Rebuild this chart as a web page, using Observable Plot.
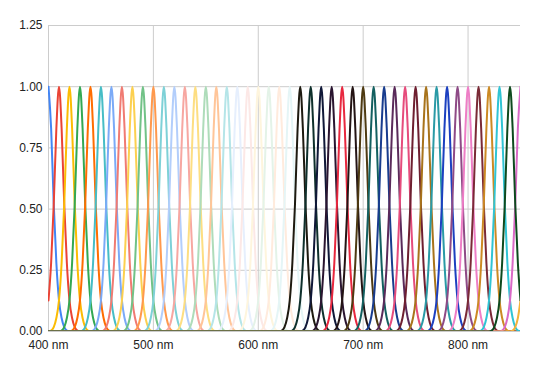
<!DOCTYPE html>
<html>
<head>
<meta charset="utf-8">
<script src="https://cdn.jsdelivr.net/npm/d3@7"></script>
<script src="https://cdn.jsdelivr.net/npm/@observablehq/plot@0.6"></script>
<style>
  html, body { margin: 0; padding: 0; background: #fff; }
  #chart { width: 533px; height: 371px; }
</style>
</head>
<body>
<div id="chart"></div>
<script>
// Peak wavelengths (nm) of each band
const centers = [400,410,420,430,440,450,460,470,480,490,500,510,520,530,540,550,560,570,580,590,600,610,620,630,
                 640,650,660,670,680,690,700,710,720,730,740,750,760,770,780,790,800,810,820,830,840,850,860];
// Line colour of each band
const colors = ["#4285F4","#EA4335","#FBBC04","#34A853","#FF6D01","#46BDC6",
                "#7BAAF7","#F07B72","#FCD04F","#71C287","#FF994D","#7ED1D7",
                "#B3CEFB","#F7A7A1","#FDDE82","#AEDCBA","#FFC599","#B5E5E8",
                "#E6EFFD","#FCE8E6","#FEF5DD","#E4F3E8","#FFEBDD","#E5F5F6",
                "#1E1A10","#0F302C","#101838","#2A1530","#E8283F","#241414",
                "#4E3A12","#136060","#183C8E","#5A2A5A","#E64C7C","#6E1F30",
                "#A8741C","#2A9AA6","#1C40C0","#8E4A86","#EE7EC6","#7A2A36",
                "#CC8A24","#30C4D4","#0E4A1E","#D96AC6","#F2B23A"];
// Band shape: offset from peak (nm) and relative value
const profileOffsets = [-20,-17.5,-15,-12.5,-10,-7.5,-5,-2.5,0,2.5,5,7.5,10,12.5,15,17.5,20];
const profileValues  = [0,0.004,0.018,0.055,0.127,0.28,0.52,0.83,1,0.83,0.52,0.28,0.127,0.055,0.018,0.004,0];
// Axis ticks
const xTicks = [400,500,600,700,800];
const yTicks = [0,0.25,0.5,0.75,1,1.25];
const xMin = 400, xMax = 850;

// Build table (band 840 drawn last so its baseline sits on top)
const order = centers.map((c,i)=>i).filter(i=>centers[i]!==840).concat([centers.indexOf(840)]);
const rows = [];
for (const i of order) {
  const c = centers[i];
  const pts = [];
  if (c + profileOffsets[0] > xMin) pts.push({x: xMin, y: 0});
  profileOffsets.forEach((o,k) => {
    const x = c + o;
    if (x >= xMin && x <= xMax) pts.push({x, y: profileValues[k]});
  });
  if (c + profileOffsets[profileOffsets.length-1] < xMax) pts.push({x: xMax, y: 0});
  for (const p of pts) rows.push({band: String(c), x: p.x, y: p.y});
}

const chart = Plot.plot({
  width: 533,
  height: 371,
  marginLeft: 48,
  marginRight: 13,
  marginTop: 25,
  marginBottom: 40,
  style: {fontFamily: "'Liberation Sans', Arial, sans-serif", fontSize: "12px", color: "#222", background: "#fff"},
  x: {domain: [xMin, xMax], ticks: xTicks, tickFormat: d => d + " nm", tickSize: 0, tickPadding: 9, label: null},
  y: {domain: [0, 1.25], ticks: yTicks, tickFormat: d3.format(".2f"), tickSize: 0, tickPadding: 6, label: null},
  color: {domain: centers.map(String), range: colors},
  marks: [
    Plot.gridY(yTicks, {stroke: "#cccccc", strokeOpacity: 1, strokeWidth: 1}),
    Plot.gridX(xTicks, {stroke: "#cccccc", strokeOpacity: 1, strokeWidth: 1}),
    Plot.line(rows, {x: "x", y: "y", z: "band", stroke: "band", strokeWidth: 2, curve: "monotone-x", clip: true})
  ]
});
document.getElementById("chart").appendChild(chart);
</script>
</body>
</html>
